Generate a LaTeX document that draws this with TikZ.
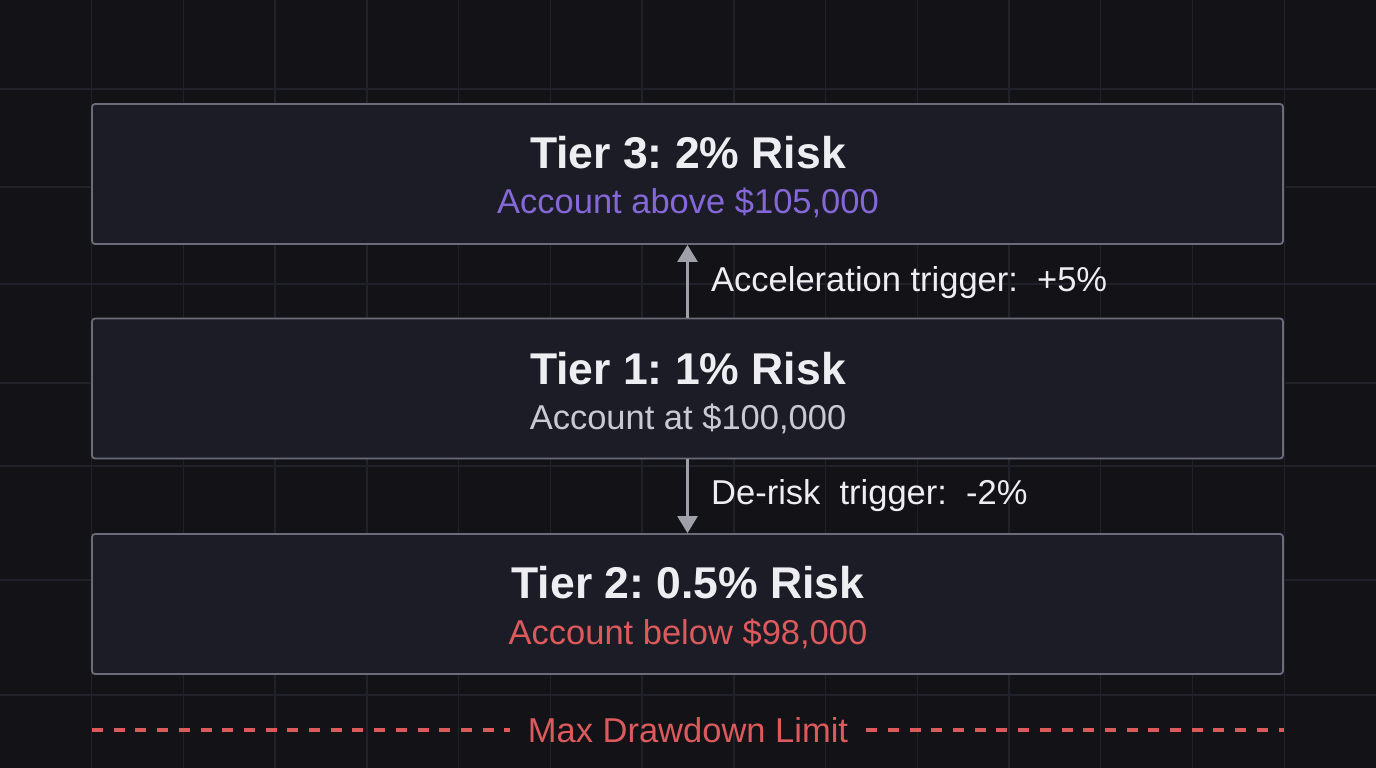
\documentclass[tikz,border=0pt]{standalone}
\usepackage{fontspec}
\setmainfont{Liberation Sans}
\usetikzlibrary{arrows.meta}
\frenchspacing
\definecolor{bgc}{HTML}{121217}
\definecolor{gridc}{HTML}{21212A}
\definecolor{boxfill}{HTML}{1C1C26}
\definecolor{boxline}{HTML}{6C6C78}
\definecolor{titlec}{HTML}{EEEEF2}
\definecolor{subgray}{HTML}{C9C9D3}
\definecolor{purplec}{HTML}{8468D8}
\definecolor{redc}{HTML}{DC5A5C}
\definecolor{arrc}{HTML}{A0A0AA}
\tikzset{
  tierbox/.style={draw=boxline, line width=1.8pt, fill=boxfill, rounded corners=3pt,
    minimum width=1191pt, minimum height=140pt, inner sep=0pt},
  titletext/.style={text=titlec, inner sep=0pt, font=\fontsize{44.5}{44.5}\selectfont\bfseries},
  subtext/.style={inner sep=0pt, font=\fontsize{34.5}{34.5}\selectfont},
  trigtext/.style={text=titlec, inner sep=0pt, anchor=west, font=\fontsize{34.5}{34.5}\selectfont},
  arr/.style={draw=arrc, line width=2.6pt, -{Triangle[width=20pt,length=17pt]}},
  gridline/.style={draw=gridc, line width=1.4pt},
  limitline/.style={draw=redc, line width=4pt, dash pattern=on 11pt off 10.7pt}
}
\begin{document}
\begin{tikzpicture}[x=1pt,y=-1pt]
\fill[bgc] (0,0) rectangle (1376,768);
\useasboundingbox (0,0) rectangle (1376,768);
% grid
\foreach \k in {1,...,14} {\draw[gridline] ({91.73*\k},0) -- ({91.73*\k},768);}
\foreach \yy in {89,187,284,383,466,580,695} {\draw[gridline] (0,\yy) -- (1376,\yy);}
% boxes
\node[tierbox] (t3) at (687.5,174) {};
\node[tierbox] (t1) at (687.5,388.5) {};
\node[tierbox] (t2) at (687.5,604) {};
% texts
\node[titletext] (t3a) at (688,153) {Tier 3: 2\% Risk};
\node[subtext, text=purplec] (t3b) at (688,203) {Account above \$105,000};
\node[titletext] (t1a) at (688,369) {Tier 1: 1\% Risk};
\node[subtext, text=subgray] (t1b) at (688,419) {Account at \$100,000};
\node[titletext] (t2a) at (688,583) {Tier 2: 0.5\% Risk};
\node[subtext, text=redc] (t2b) at (688,634) {Account below \$98,000};
% arrows
\draw[arr] (t1.north) -- (t3.south);
\draw[arr] (t1.south) -- (t2.south |- t2.north);
\node[trigtext] (acc) at (711,283) {Acceleration trigger:\ \ +5\%};
\node[trigtext] (der) at (711,496) {De-risk\ \ trigger:\ \ -2\%};
% max drawdown limit
\node[subtext, text=redc] (lim) at (688,730) {Max Drawdown Limit};
\coordinate (dl) at (92,730);
\coordinate (dr) at (1284,730);
\draw[limitline] (dl) -- ([xshift=-18pt]lim.west);
\draw[limitline] ([xshift=18pt]lim.east) -- (dr);
\end{tikzpicture}
\end{document}
